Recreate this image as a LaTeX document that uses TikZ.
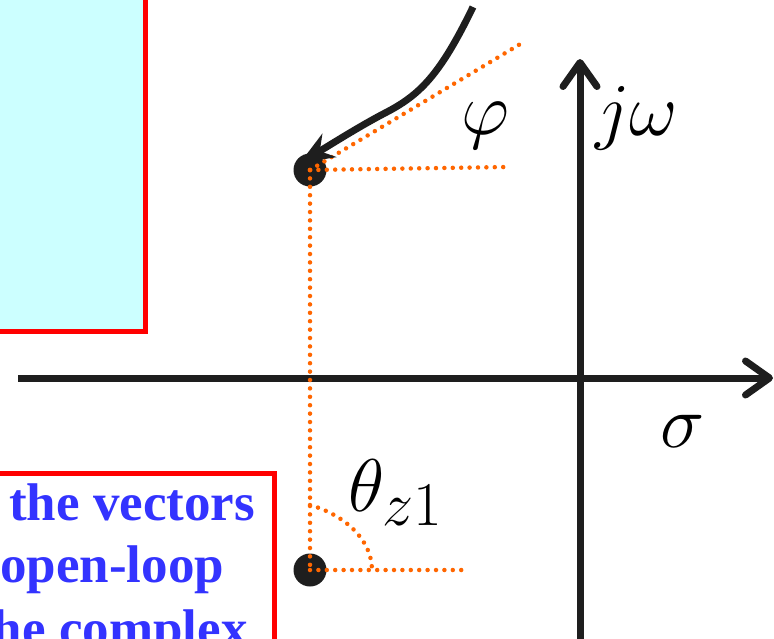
\documentclass[tikz,border=0pt]{standalone}
\usepackage{fontspec}
\setmainfont{Liberation Serif}
\usetikzlibrary{arrows.meta}
\definecolor{boxcyan}{RGB}{204,255,255}
\definecolor{guideorange}{RGB}{255,102,0}
\definecolor{noteblue}{RGB}{51,51,255}
\definecolor{inkblack}{RGB}{30,30,30}
\newcommand{\bigsym}[1]{\scalebox{3}{$#1$}}

\begin{document}
\begin{tikzpicture}[x=1pt,y=-1pt,>=Stealth]
\tikzstyle{axis}=[draw=inkblack,line width=7pt,-{Straight Barb[length=24pt,width=34pt,round]}]
\tikzstyle{guide}=[draw=guideorange,line width=4.5pt,line cap=round,dash pattern=on 0pt off 8.4pt]
\tikzstyle{pt}=[circle,fill=inkblack,inner sep=0pt,minimum size=33pt]
\tikzstyle{sym}=[inner sep=0pt,font=\Huge]
\tikzstyle{note}=[inner sep=0pt,anchor=base west,text=noteblue,font=\fontsize{53}{62}\selectfont\bfseries]
\useasboundingbox (0,0) rectangle (774,638);
\clip (0,0) rectangle (774,638);
% boxes cut by the frame
\draw[red,line width=5pt,fill=boxcyan] (-20,-20) rectangle (145,331);
\draw[red,line width=5pt,fill=white] (-20,473) rectangle (274,700);
\node[note] (l1) at (9,520) {the vectors};
\node[note] (l2) at (0,582) {open-loop};
\node[note] (l3) at (-25,646) {the complex};
% axes
\coordinate (xs) at (18,378); \coordinate (xe) at (773,378);
\coordinate (ys) at (580,660); \coordinate (ye) at (580,59);
\draw[axis] (xs) -- (xe);
\draw[axis] (ys) -- (ye);
\node[sym] (sig) at (683,431) {\bigsym{\sigma}};
\node[sym,anchor=base west] (jw) at (595,135) {\bigsym{j\omega}};
% pole and zero
\node[pt] (p) at (310,170) {};
\node[pt] (z) at (310,570) {};
\coordinate (ph) at (507,167);
\coordinate (tn) at (522,43);
\coordinate (zh) at (465,570);
\coordinate (a0) at (310,505);
\coordinate (a1) at (372,570);
\draw[guide] (p.center) -- (z.center);
\draw[guide] (p.center) -- (ph);
\draw[guide] (p.center) -- (tn);
\draw[guide] (z.center) -- (zh);
\draw[guide] (a0) .. controls (345,515) and (372,540) .. (a1);
\node[sym] (phi) at (485,126) {\bigsym{\varphi}};
\node[sym,anchor=base west] (th) at (348,511) {\bigsym{\theta_{z1}}};
% locus branch
\coordinate (c0) at (473,7);
\coordinate (c1) at (385,113);
\coordinate (c2) at (300,163);
\draw[draw=inkblack,line width=7pt,-{Stealth[length=34pt,width=27pt]}] (c0) .. controls (440,75) and (420,95) .. (c1) .. controls (360,126) and (330,145) .. (c2);
\end{tikzpicture}
\end{document}
